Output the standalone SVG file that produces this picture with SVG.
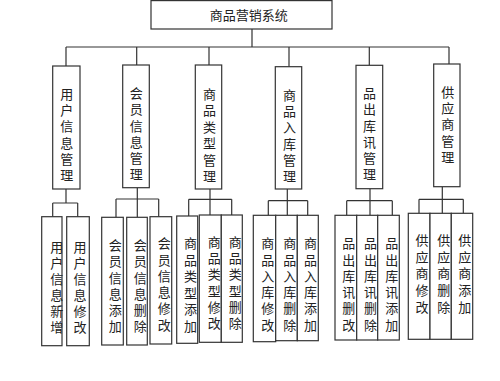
<svg xmlns="http://www.w3.org/2000/svg" width="500" height="381" viewBox="0 0 500 381">
<style>
.b{fill:#fff;stroke:#333;stroke-width:1.2}
.c{fill:none;stroke:#333;stroke-width:1.2}
text{font-family:"Noto Sans CJK SC","Liberation Sans",sans-serif;font-size:13px;fill:#222}
.h{text-anchor:middle;dominant-baseline:central}
.v{writing-mode:vertical-rl;text-anchor:start;letter-spacing:3.3px}
</style>
<rect width="500" height="381" fill="#fff"/>
<g id="connectors" class="c">
<path d="M252,29V47M66,47H449M66,47V66M136.7,47V65M209,47V65M289,47V66.7M369.3,47V65.3M449,47V64"/>
<path d="M66,189V203M52.7,203H77.7M52.7,203V216.7M77.7,203V216.7"/>
<path d="M137.3,188V217M116,199H158.7M116,199V217.3M158.7,199V216.7"/>
<path d="M210,189V215M188.7,199.3H231.7M188.7,199.3V216M231.7,199.3V215"/>
<path d="M287.3,189V215.3M268.3,200.7H307.7M268.3,200.7V215.3M307.7,200.7V215.3"/>
<path d="M370,188.7V215.3M346.7,200.7H392.3M346.7,200.7V215.3M392.3,200.7V215.3"/>
<path d="M442.3,186.7V213.3M419,199.3H463.3M419,199.3V213.3M463.3,199.3V213.3"/>
</g>
<g id="root"><rect class="b" x="151" y="0.6" width="181" height="28.4"/><text class="h" x="248.7" y="14">商品营销系统</text></g>
<g id="n1"><rect class="b" x="52.7" y="66" width="27.3" height="123"/><text class="v" x="66.7" y="87.8" style="letter-spacing:3.1px">用户信息管理</text></g>
<g id="n2"><rect class="b" x="122.7" y="65" width="26.6" height="122.7"/><text class="v" x="136.2" y="86.8" style="letter-spacing:3.2px">会员信息管理</text></g>
<g id="n3"><rect class="b" x="195.3" y="65" width="26.4" height="124"/><text class="v" x="209.5" y="87.5" style="letter-spacing:3.4px">商品类型管理</text></g>
<g id="n4"><rect class="b" x="275.3" y="66.7" width="26.4" height="122.3"/><text class="v" x="289.5" y="88.5" style="letter-spacing:3.2px">商品入库管理</text></g>
<g id="n5"><rect class="b" x="356" y="65.3" width="26.7" height="123.4"/><text class="v" x="369.5" y="86.8" style="letter-spacing:3.2px">品出库讯管理</text></g>
<g id="n6"><rect class="b" x="433.7" y="64" width="26.3" height="122.7"/><text class="v" x="447.8" y="85.2" style="letter-spacing:3.4px">供应商管理</text></g>
<g id="n1a"><rect class="b" x="41.7" y="216.7" width="20.3" height="129"/><text class="v" x="56.7" y="240.2" style="letter-spacing:3px">用户信息新增</text></g>
<g id="n1b"><rect class="b" x="66.7" y="216.7" width="22.6" height="129"/><text class="v" x="80" y="240.8" style="letter-spacing:2.9px">用户信息修改</text></g>
<g id="n2a"><rect class="b" x="101.7" y="217.3" width="21.6" height="127.7"/><text class="v" x="115.3" y="238.5">会员信息添加</text></g>
<g id="n2b"><rect class="b" x="126.7" y="217.3" width="20.6" height="127.7"/><text class="v" x="140.3" y="238.5">会员信息删除</text></g>
<g id="n2c"><rect class="b" x="150" y="216.7" width="21.7" height="127.3"/><text class="v" x="164.2" y="236.8">会员信息修改</text></g>
<g id="n3a"><rect class="b" x="176.7" y="216" width="21" height="127.3"/><text class="v" x="190.5" y="236.8" style="letter-spacing:3.5px">商品类型添加</text></g>
<g id="n3b"><rect class="b" x="199.3" y="215" width="22" height="127.3"/><text class="v" x="214.2" y="235.2">商品类型修改</text></g>
<g id="n3c"><rect class="b" x="221.3" y="215" width="21" height="127.3"/><text class="v" x="235.2" y="235.2">商品类型删除</text></g>
<g id="n4a"><rect class="b" x="253.3" y="215.3" width="22.4" height="126.4"/><text class="v" x="267.8" y="236.8">商品入库修改</text></g>
<g id="n4b"><rect class="b" x="275.7" y="215.3" width="21.6" height="125.4"/><text class="v" x="289.8" y="236.8">商品入库删除</text></g>
<g id="n4c"><rect class="b" x="297.3" y="215.3" width="21" height="125.4"/><text class="v" x="310.5" y="236.8">商品入库添加</text></g>
<g id="n5a"><rect class="b" x="335" y="215.3" width="21.7" height="124.7"/><text class="v" x="348.7" y="236.8">品出库讯删改</text></g>
<g id="n5b"><rect class="b" x="356.7" y="215.3" width="21" height="124.7"/><text class="v" x="370.5" y="236.8">品出库讯删除</text></g>
<g id="n5c"><rect class="b" x="377.7" y="215.3" width="21.6" height="124.7"/><text class="v" x="391.7" y="236.8">品出库讯添加</text></g>
<g id="n6a"><rect class="b" x="408.3" y="213.3" width="21.7" height="126"/><text class="v" x="422" y="233.5" style="letter-spacing:3.7px">供应商修改</text></g>
<g id="n6b"><rect class="b" x="430" y="213.3" width="21.3" height="126"/><text class="v" x="443.7" y="233.5" style="letter-spacing:3.7px">供应商删除</text></g>
<g id="n6c"><rect class="b" x="451.3" y="213.3" width="21.4" height="126"/><text class="v" x="464.7" y="233.5" style="letter-spacing:3.7px">供应商添加</text></g>
</svg>
